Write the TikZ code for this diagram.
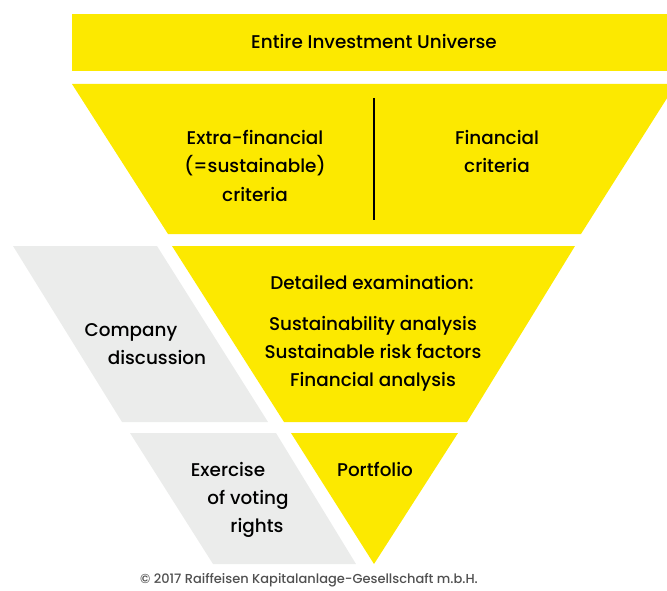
\documentclass[tikz,border=0pt]{standalone}
\usepackage{fontspec}
\setmainfont{Poppins}[UprightFont={* Medium}]
\definecolor{fy}{HTML}{FCE900}
\definecolor{fg}{HTML}{EBECEB}
\definecolor{ct}{HTML}{505050}
\tikzset{
  lbl/.style={inner sep=0pt, text height=0.7em, text depth=0pt, yshift=-4.5pt, font=\fontsize{18.4}{22}\selectfont, text=black},
  copy/.style={inner sep=0pt, text height=0.7em, text depth=0pt, font=\fontsize{13}{15}\selectfont, text=ct},
  yfill/.style={fill=fy},
  gfill/.style={fill=fg}
}
\begin{document}
\begin{tikzpicture}[x=1pt,y=-1pt]
\useasboundingbox (0,0) rectangle (667,591);
\clip (0,0) rectangle (667,591);
% shapes
\fill[yfill] (72,14) rectangle (680,71);
\fill[yfill] (72,84) -- (676,84) -- (581,234) -- (168,234) -- cycle;
\fill[gfill] (13,246) -- (157,246) -- (268,422) -- (122,422) -- cycle;
\fill[yfill] (172,246) -- (575,246) -- (467,422) -- (284,422) -- cycle;
\fill[gfill] (130,433) -- (276,433) -- (356,564) -- (213,564) -- cycle;
\fill[yfill] (291,433) -- (458,433) -- (374,564) -- cycle;
\coordinate (dtop) at (374,98);
\coordinate (dbot) at (374,220);
\draw[line width=2pt] (dtop) -- (dbot);
% texts
\node[lbl] (univ) at (374,41) {Entire Investment Universe};
\node[lbl] (ef1) at (255,137) {Extra-financial};
\node[lbl] (ef2) at (255,165) {(=sustainable)};
\node[lbl] (ef3) at (255,193) {criteria};
\node[lbl] (fc1) at (497,137) {Financial};
\node[lbl] (fc2) at (497,165) {criteria};
\node[lbl] (de) at (372,281) {Detailed examination:};
\node[lbl] (sa) at (373,322) {Sustainability analysis};
\node[lbl] (sr) at (373,350) {Sustainable risk factors};
\node[lbl] (fa) at (373,378) {Financial analysis};
\node[lbl] (cd1) at (131,328) {Company};
\node[lbl] (cd2) at (157,356) {discussion};
\node[lbl] (ev1) at (228,468) {Exercise};
\node[lbl] (ev2) at (248,496) {of voting};
\node[lbl] (ev3) at (257,524) {rights};
\node[lbl] (pf) at (375,468) {Portfolio};
\node[copy] (cp) at (309,580) {© 2017 Raiffeisen Kapitalanlage-Gesellschaft m.b.H.};
\end{tikzpicture}
\end{document}
